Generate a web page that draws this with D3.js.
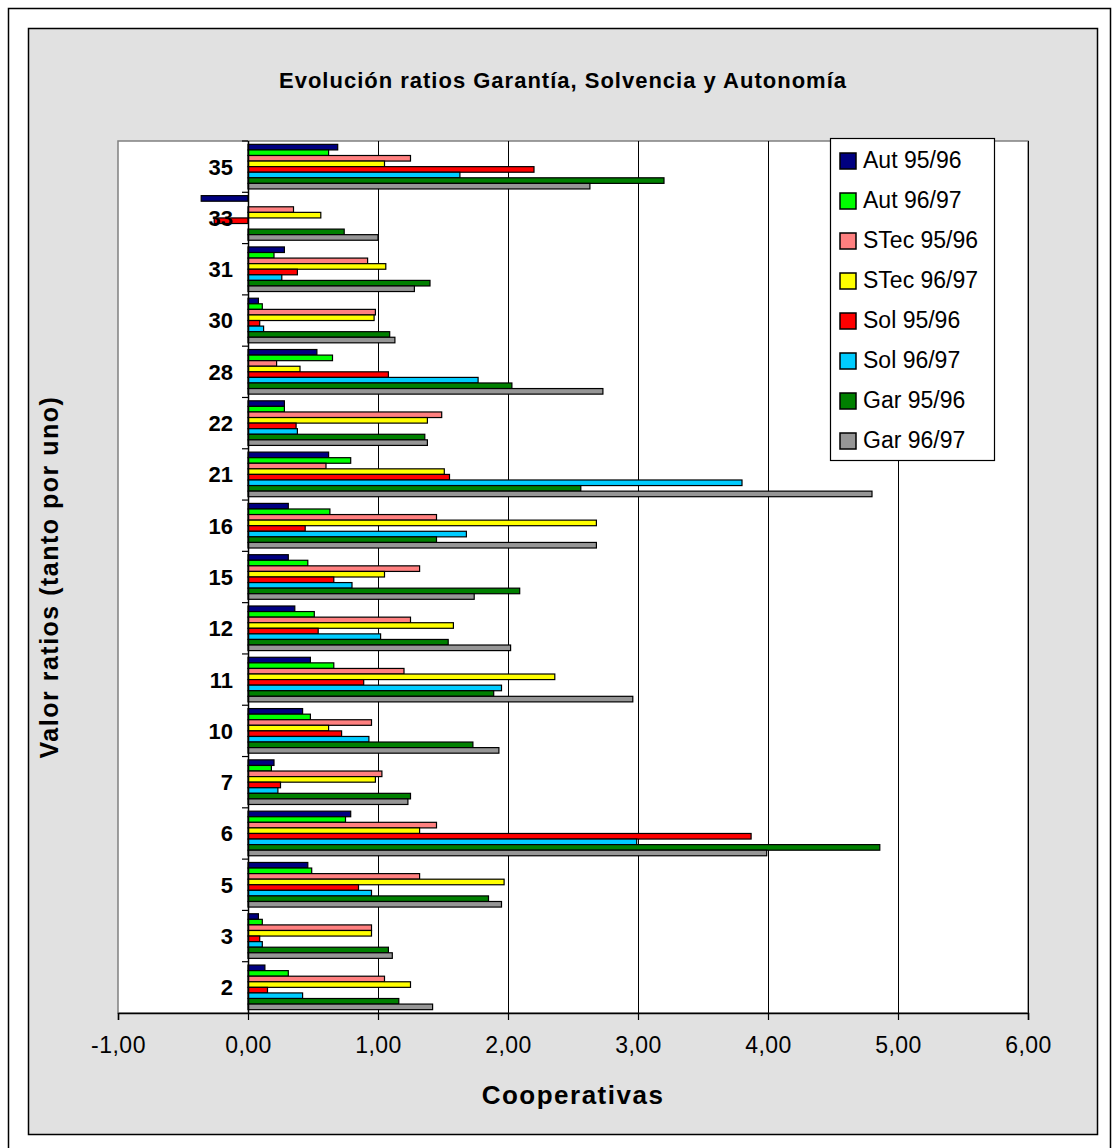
<!DOCTYPE html>
<html>
<head>
<meta charset="utf-8">
<script src="https://cdn.jsdelivr.net/npm/d3@7"></script>
<style>
  html, body { margin: 0; padding: 0; background: #ffffff; }
  svg { display: block; font-family: "Liberation Sans", Arial, sans-serif; }
</style>
</head>
<body>
<svg id="chart" width="1114" height="1148"></svg>
<script>
// Cooperatives, listed bottom to top as on the category axis
const categories = ["2", "3", "5", "6", "7", "10", "11", "12", "15", "16", "21", "22", "28", "30", "31", "33", "35"];

// Ratios (tanto por uno) per cooperative; null = no value
const aut9596  = [0.13, 0.08, 0.46, 0.79, 0.20, 0.42, 0.48, 0.36, 0.31, 0.31, 0.62, 0.28, 0.53, 0.08, 0.28, -0.36, 0.69];
const aut9697  = [0.31, 0.11, 0.49, 0.75, 0.18, 0.48, 0.66, 0.51, 0.46, 0.63, 0.79, 0.28, 0.65, 0.11, 0.20, null, 0.62];
const stec9596 = [1.05, 0.95, 1.32, 1.45, 1.03, 0.95, 1.20, 1.25, 1.32, 1.45, 0.60, 1.49, 0.22, 0.98, 0.92, 0.35, 1.25];
const stec9697 = [1.25, 0.95, 1.97, 1.32, 0.98, 0.62, 2.36, 1.58, 1.05, 2.68, 1.51, 1.38, 0.40, 0.97, 1.06, 0.56, 1.05];
const sol9596  = [0.15, 0.09, 0.85, 3.87, 0.25, 0.72, 0.89, 0.54, 0.66, 0.44, 1.55, 0.37, 1.08, 0.09, 0.38, -0.26, 2.20];
const sol9697  = [0.42, 0.11, 0.95, 2.99, 0.23, 0.93, 1.95, 1.02, 0.80, 1.68, 3.80, 0.38, 1.77, 0.12, 0.26, null, 1.63];
const gar9596  = [1.16, 1.08, 1.85, 4.86, 1.25, 1.73, 1.89, 1.54, 2.09, 1.45, 2.56, 1.36, 2.03, 1.09, 1.40, 0.74, 3.20];
const gar9697  = [1.42, 1.11, 1.95, 3.99, 1.23, 1.93, 2.96, 2.02, 1.74, 2.68, 4.80, 1.38, 2.73, 1.13, 1.28, 1.00, 2.63];

const seriesNames  = ["Aut 95/96", "Aut 96/97", "STec 95/96", "STec 96/97", "Sol 95/96", "Sol 96/97", "Gar 95/96", "Gar 96/97"];
const seriesValues = [aut9596, aut9697, stec9596, stec9697, sol9596, sol9697, gar9596, gar9697];
const seriesColors = ["#000080", "#00ff00", "#ff8080", "#ffff00", "#ff0000", "#00ccff", "#008000", "#969696"];

const xTicks = [-1, 0, 1, 2, 3, 4, 5, 6];

const chartTitle = "Evolución ratios Garantía, Solvencia y Autonomía";
const xTitle = "Cooperativas";
const yTitle = "Valor ratios (tanto por uno)";

const svg = d3.select("#chart");

// Outer frame and chart area
svg.append("rect").attr("x", 8.5).attr("y", 8.5).attr("width", 1102).attr("height", 1160)
  .attr("fill", "#ffffff").attr("stroke", "#000").attr("stroke-width", 1.5);
svg.append("rect").attr("x", 28.5).attr("y", 28.5).attr("width", 1069).attr("height", 1106)
  .attr("fill", "#e1e1e1").attr("stroke", "#000").attr("stroke-width", 1.5);

const plot = { left: 118, right: 1028, top: 141, bottom: 1013 };

const x = d3.scaleLinear().domain([-1, 6]).range([plot.left, plot.right]);
const y0 = d3.scaleBand().domain(categories.slice().reverse()).range([plot.top, plot.bottom]);
const y1 = d3.scaleBand().domain(seriesNames).range([0, y0.bandwidth()]).paddingOuter(0.6);

// Plot area
svg.append("rect").attr("x", plot.left).attr("y", plot.top)
  .attr("width", plot.right - plot.left).attr("height", plot.bottom - plot.top)
  .attr("fill", "#ffffff").attr("stroke", "#808080").attr("stroke-width", 1.5);

// Vertical gridlines
svg.append("g").selectAll("line").data(xTicks.filter(t => t > 0)).join("line")
  .attr("x1", d => x(d) + 0.5).attr("x2", d => x(d) + 0.5)
  .attr("y1", plot.top).attr("y2", plot.bottom)
  .attr("stroke", "#000").attr("stroke-width", 1);

// Bars
const groups = svg.append("g").selectAll("g").data(categories).join("g")
  .attr("transform", d => `translate(0,${y0(d)})`);

groups.selectAll("rect")
  .data(c => seriesNames.map((s, si) => ({ s, v: seriesValues[si][categories.indexOf(c)], color: seriesColors[si] })))
  .join("rect")
  .filter(d => d.v !== null)
  .attr("x", d => x(Math.min(0, d.v)))
  .attr("y", d => y1(d.s))
  .attr("width", d => Math.abs(x(d.v) - x(0)))
  .attr("height", y1.bandwidth())
  .attr("fill", d => d.color)
  .attr("stroke", "#000").attr("stroke-width", 1.2);

// Category axis at zero
const yAxis = svg.append("g").attr("transform", `translate(${x(0)},0)`);
yAxis.append("line").attr("x1", 0.5).attr("x2", 0.5).attr("y1", plot.top).attr("y2", plot.bottom)
  .attr("stroke", "#000").attr("stroke-width", 1.5);
yAxis.selectAll("line.tick").data(categories.slice().reverse()).join("line").attr("class", "tick")
  .attr("x1", -6).attr("x2", 0).attr("y1", d => y0(d)).attr("y2", d => y0(d))
  .attr("stroke", "#000").attr("stroke-width", 1.2);
yAxis.selectAll("text").data(categories).join("text")
  .attr("x", -15).attr("y", d => y0(d) + y0.bandwidth() / 2)
  .attr("dy", "0.36em").attr("text-anchor", "end")
  .attr("font-size", 22).attr("font-weight", "bold").attr("fill", "#000")
  .text(d => d);

// Value axis, Spanish decimal comma with a plain hyphen for negatives
const comma = d3.formatLocale({ decimal: ",", thousands: ".", grouping: [3], currency: ["", "€"], minus: "-" });
const xAxis = d3.axisBottom(x).tickValues(xTicks).tickSize(7).tickPadding(17).tickFormat(comma.format(".2f"));
const gx = svg.append("g").attr("transform", `translate(0,${plot.bottom})`).call(xAxis);
gx.select(".domain").attr("stroke", "#000").attr("stroke-width", 1.5);
gx.selectAll(".tick line").attr("stroke", "#000").attr("stroke-width", 1.2);
gx.selectAll(".tick text").attr("font-size", 23).attr("fill", "#000").attr("letter-spacing", 0.5)
  .attr("font-family", "Liberation Sans, Arial, sans-serif");

// Titles
svg.append("text").attr("x", 563).attr("y", 88).attr("text-anchor", "middle")
  .attr("font-size", 22).attr("font-weight", "bold").attr("letter-spacing", 1).text(chartTitle);
svg.append("text").attr("x", (plot.left + plot.right) / 2).attr("y", 1104).attr("text-anchor", "middle")
  .attr("font-size", 26).attr("font-weight", "bold").attr("letter-spacing", 1.5).text(xTitle);
svg.append("text").attr("transform", `translate(58,${(plot.top + plot.bottom) / 2}) rotate(-90)`)
  .attr("text-anchor", "middle").attr("font-size", 25).attr("font-weight", "bold").attr("letter-spacing", 1.5)
  .text(yTitle);

// Legend
const legend = svg.append("g");
legend.append("rect").attr("x", 830.5).attr("y", 138.5).attr("width", 164).attr("height", 322)
  .attr("fill", "#ffffff").attr("stroke", "#000").attr("stroke-width", 1.2);
const items = legend.selectAll("g").data(seriesNames).join("g")
  .attr("transform", (d, i) => `translate(840,${153 + i * 40})`);
items.append("rect").attr("width", 16).attr("height", 16)
  .attr("fill", (d, i) => seriesColors[i]).attr("stroke", "#000").attr("stroke-width", 1.5);
items.append("text").attr("x", 23).attr("y", 14.5).attr("font-size", 23).attr("fill", "#000").text(d => d);
</script>
</body>
</html>
